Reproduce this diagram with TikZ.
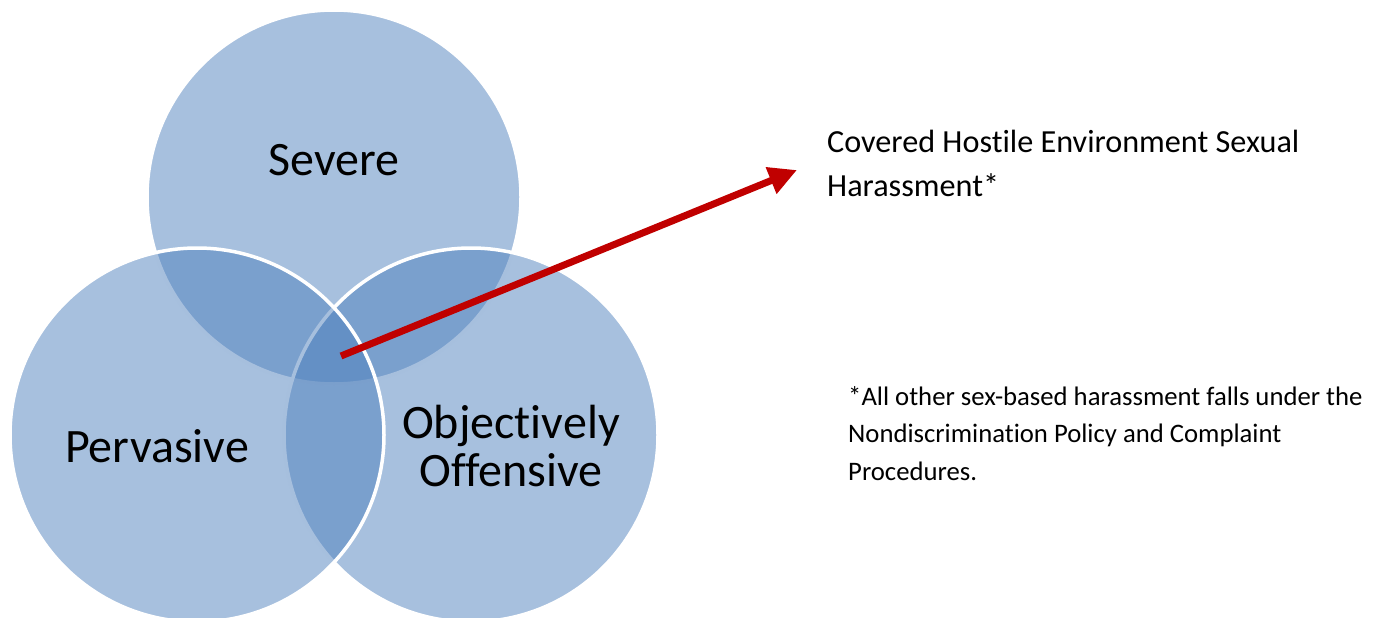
\documentclass[tikz,border=0pt]{standalone}
\usepackage{fontspec}
\setmainfont[Ligatures={NoCommon}]{Carlito}
\usetikzlibrary{arrows.meta}
\definecolor{venn}{HTML}{4F81BD}
\definecolor{arrowred}{HTML}{C00000}
\begin{document}
\begin{tikzpicture}[x=1pt,y=-1pt,
  vcircle/.style={circle, minimum size=374pt, inner sep=0pt, fill=venn, fill opacity=0.5, draw=white, line width=3.5pt},
  biglabel/.style={font=\fontsize{48}{48}\selectfont, align=center, inner sep=0pt},
  sidetext/.style={font=\fontsize{32.2}{44}\selectfont, align=left, inner sep=0pt, anchor=north west},
  notetext/.style={font=\fontsize{26.7}{37.5}\selectfont, align=left, inner sep=0pt, anchor=north west},
  redarrow/.style={draw=arrowred, line width=7pt, -{Triangle[length=28pt,width=27pt]}}]
\useasboundingbox (0,0) rectangle (1378,618);
\begin{scope}
\clip (0,0) rectangle (1378,618);
\node[vcircle] (sev) at (334,197) {};
\node[vcircle] (off) at (471,435) {};
\node[vcircle] (per) at (197,435) {};
\end{scope}
\node[biglabel] (sevl) at (334,160) {Severe};
\node[biglabel] (perl) at (157,446) {Pervasive};
\node[biglabel] (offl) at (511,446) {Objectively\\Offensive};
\coordinate (a0) at (341,356);
\coordinate (a1) at (797,170);
\draw[redarrow] (a0) -- (a1);
\node[sidetext] (cov) at (827,130) {Covered Hostile Environment Sexual\\Harassment*};
\node[notetext] (note) at (848,386) {*All other sex-based harassment falls under the\\Nondiscrimination Policy and Complaint\\Procedures.};
\end{tikzpicture}
\end{document}
